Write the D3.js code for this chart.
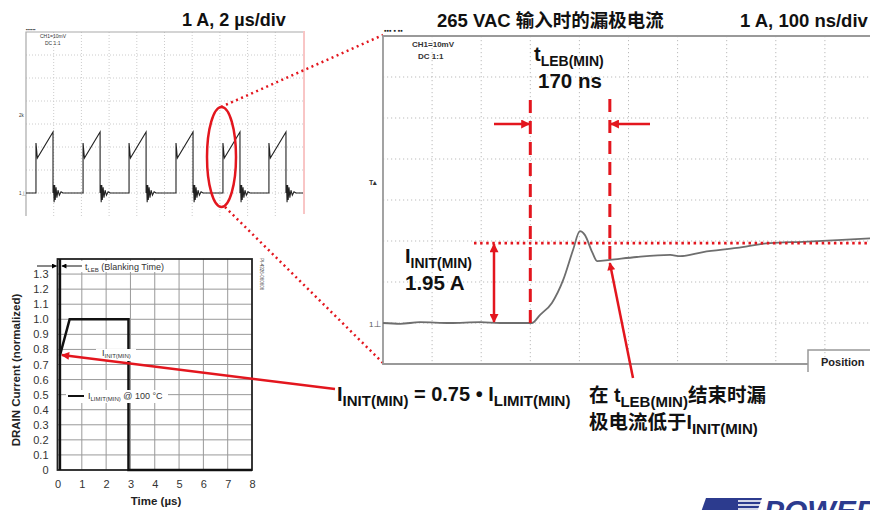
<!DOCTYPE html>
<html>
<head>
<meta charset="utf-8">
<script src="https://cdn.jsdelivr.net/npm/d3@7"></script>
<style>
  body { margin: 0; background: #fff; }
  svg { display: block; }
  text { font-family: "Liberation Sans", Arial, "Noto Sans CJK SC", sans-serif; }
</style>
</head>
<body>
<script>
// ---- data ----
// small scope: 1 A, 2 us/div
var pulseStarts = [0.72, 4.12, 7.44, 10.83, 14.22, 17.54];          // us
var pulseShape = [[0, 0], [0, 2.17], [0.1, 1.52], [1.23, 2.65], [1.23, 0]]; // [us offset, A]
var ringing = [[1.27, 0.35], [1.31, -0.4], [1.35, 0.35], [1.39, -0.3], [1.45, 0.25],
               [1.51, -0.2], [1.59, 0.12], [1.69, -0.1], [1.81, 0.05], [1.95, 0]];

// big scope: 1 A, 100 ns/div
var traceNs = [0, 35, 75, 136, 198, 238, 289, 303, 320, 344, 367, 387, 401, 411, 426, 436,
               462, 517, 585, 605, 652, 721, 788, 855, 925, 1000];
var traceA  = [0, -0.02, 0.02, 0, 0.02, 0, 0, 0, 0.2, 0.49, 1.05, 1.78, 2.24, 2.15, 1.73, 1.51,
               1.54, 1.61, 1.66, 1.63, 1.73, 1.83, 1.95, 1.98, 2.02, 2.07];
var lebStart = 300, lebEnd = 462, iInit = 1.95;

// normalized drain current vs time
var limitTime    = [0.1, 0.5, 2.92, 2.92, 8];
var limitCurrent = [0.76, 1.0, 1.0, 0, 0];
var yTicks = [0, 0.1, 0.2, 0.3, 0.4, 0.5, 0.6, 0.7, 0.8, 0.9, 1.0, 1.1, 1.2, 1.3];
var xTicks = [0, 1, 2, 3, 4, 5, 6, 7, 8];

var red = '#e3161e', blue = '#2c3b8e';

var svg = d3.select('body').append('svg')
    .attr('width', 870)
    .attr('height', 510);
svg.append('rect').attr('width', 870).attr('height', 510).attr('fill', '#fff');

var defs = svg.append('defs');
function marker(id, color, w, h) {
  defs.append('marker').attr('id', id)
      .attr('viewBox', '0 0 10 10').attr('refX', 9).attr('refY', 5)
      .attr('markerUnits', 'userSpaceOnUse')
      .attr('markerWidth', w).attr('markerHeight', h)
      .attr('orient', 'auto-start-reverse')
    .append('path').attr('d', 'M0,0L10,5L0,10z').attr('fill', color);
}
marker('ar', red, 11, 9);
marker('arLong', red, 14, 8);
marker('ak', '#000', 7, 5);

// text with subscripts: parts = [[text, isSub], ...]
function rich(g, x, y, parts, size, subSize, opts) {
  opts = opts || {};
  var t = g.append('text').attr('x', x).attr('y', y)
      .attr('font-size', size).attr('font-weight', opts.weight || 'bold')
      .attr('fill', opts.fill || '#111');
  var sub = false;
  parts.forEach(function(p) {
    var s = t.append('tspan').text(p[0]);
    if (p[1] && !sub) { s.attr('dy', size * 0.25).attr('font-size', subSize); sub = true; }
    else if (!p[1] && sub) { s.attr('dy', -size * 0.25); sub = false; }
  });
  return t;
}

// ================= small scope =================
var sx = d3.scaleLinear().domain([0, 20]).range([26, 303]);
var sy = d3.scaleLinear().domain([-1, 7]).range([216, 32]);
var small = svg.append('g');

small.selectAll('line.vg').data(d3.range(1, 10)).enter().append('line')
    .attr('x1', function(d) { return sx(d * 2); }).attr('x2', function(d) { return sx(d * 2); })
    .attr('y1', sy(7)).attr('y2', sy(-1))
    .attr('stroke', '#ccc').attr('stroke-dasharray', '1,2');
small.selectAll('line.hg').data(d3.range(0, 7)).enter().append('line')
    .attr('x1', sx(0)).attr('x2', sx(20))
    .attr('y1', function(d) { return sy(d); }).attr('y2', function(d) { return sy(d); })
    .attr('stroke', '#ccc').attr('stroke-dasharray', '1,2');
small.append('path')
    .attr('d', 'M' + sx(0) + ',' + sy(-1) + 'V' + sy(7) + 'H' + sx(20))
    .attr('fill', 'none').attr('stroke', '#aaa').attr('stroke-width', 1.2);
small.append('line').attr('x1', 304).attr('x2', 304).attr('y1', 31).attr('y2', 214)
    .attr('stroke', '#f28c8c').attr('stroke-width', 1);

var smallPts = [[0, 0]];
pulseStarts.forEach(function(s) {
  pulseShape.forEach(function(p) { smallPts.push([s + p[0], p[1]]); });
  ringing.forEach(function(p) { smallPts.push([s + p[0], p[1]]); });
});
smallPts.push([20, 0]);
small.append('path')
    .attr('d', d3.line().x(function(d) { return sx(d[0]); }).y(function(d) { return sy(d[1]); })(smallPts))
    .attr('fill', 'none').attr('stroke', '#222').attr('stroke-width', 1.1);

small.append('text').attr('x', 40).attr('y', 38).attr('font-size', 5).attr('fill', '#333').text('CH1=10mV');
small.append('text').attr('x', 45).attr('y', 45).attr('font-size', 5).attr('fill', '#333').text('DC  1:1');
small.append('text').attr('x', 19).attr('y', 117).attr('font-size', 4.5).attr('fill', '#333').text('2k');
small.append('text').attr('x', 19).attr('y', 195).attr('font-size', 4.5).attr('fill', '#333').text('1\u22a5');
small.append('text').attr('x', 26).attr('y', 31).attr('font-size', 4.5).attr('fill', '#333').text('\u25aa\u25aa\u25aa\u25aa\u25aa\u25aa');

svg.append('text').attr('x', 182).attr('y', 26).attr('font-size', 18).attr('font-weight', 'bold')
    .attr('fill', '#111').text('1 A, 2 \u00b5s/div');

// zoom ellipse and dotted lines to the big scope
svg.append('ellipse').attr('cx', 221.5).attr('cy', 157).attr('rx', 14.5).attr('ry', 50)
    .attr('fill', 'none').attr('stroke', red).attr('stroke-width', 2.5);
svg.append('line').attr('x1', 221).attr('y1', 107).attr('x2', 383).attr('y2', 35)
    .attr('stroke', red).attr('stroke-width', 2.5).attr('stroke-dasharray', '2,3.5');
svg.append('line').attr('x1', 225).attr('y1', 207).attr('x2', 383).attr('y2', 363)
    .attr('stroke', red).attr('stroke-width', 2.5).attr('stroke-dasharray', '2,3.5');

// ================= big scope =================
var bx = d3.scaleLinear().domain([0, 1000]).range([383, 874]);
var by = d3.scaleLinear().domain([-1, 7]).range([364, 36]);
var big = svg.append('g');

big.selectAll('line.vg').data(d3.range(1, 10)).enter().append('line')
    .attr('x1', function(d) { return bx(d * 100); }).attr('x2', function(d) { return bx(d * 100); })
    .attr('y1', by(7)).attr('y2', by(-1))
    .attr('stroke', '#bbb').attr('stroke-dasharray', '1.2,2.8');
big.selectAll('line.hg').data(d3.range(0, 7)).enter().append('line')
    .attr('x1', bx(0)).attr('x2', bx(1000))
    .attr('y1', function(d) { return by(d); }).attr('y2', function(d) { return by(d); })
    .attr('stroke', '#bbb').attr('stroke-dasharray', '1.2,2.8');
big.append('path')
    .attr('d', 'M870,' + by(7) + 'H' + bx(0) + 'V' + by(-1) + 'H808')
    .attr('fill', 'none').attr('stroke', '#999').attr('stroke-width', 1.8);
big.append('path').attr('d', 'M808,372V350H870')
    .attr('fill', 'none').attr('stroke', '#999').attr('stroke-width', 1.5);
big.append('text').attr('x', 821).attr('y', 366).attr('font-size', 11).attr('font-weight', 'bold')
    .attr('fill', '#222').text('Position');

big.append('text').attr('x', 412).attr('y', 47).attr('font-size', 8).attr('font-weight', 'bold')
    .attr('fill', '#333').text('CH1=10mV');
big.append('text').attr('x', 418).attr('y', 59).attr('font-size', 8).attr('font-weight', 'bold')
    .attr('fill', '#333').text('DC   1:1');
big.append('text').attr('x', 384).attr('y', 33).attr('font-size', 7).attr('fill', '#222')
    .text('\u25aa\u25aa\u25aa \u25aa \u25aa\u25aa');
big.append('text').attr('x', 369).attr('y', 185).attr('font-size', 7).attr('font-weight', 'bold')
    .attr('fill', '#333').text('T\u25b4');
big.append('text').attr('x', 369).attr('y', 327).attr('font-size', 8).attr('fill', '#555').text('1\u22a5');

big.append('path')
    .attr('d', d3.line().x(function(d, i) { return bx(traceNs[i]); })
                        .y(function(d, i) { return by(traceA[i]); })
                        .curve(d3.curveMonotoneX)(traceNs))
    .attr('fill', 'none').attr('stroke', '#6e6e6e').attr('stroke-width', 1.8);

// t_LEB markers
big.append('line').attr('x1', bx(lebStart)).attr('x2', bx(lebStart)).attr('y1', 100).attr('y2', by(0))
    .attr('stroke', red).attr('stroke-width', 3).attr('stroke-dasharray', '13,8');
big.append('line').attr('x1', bx(lebEnd)).attr('x2', bx(lebEnd)).attr('y1', 99).attr('y2', 262)
    .attr('stroke', red).attr('stroke-width', 3).attr('stroke-dasharray', '13,8');
big.append('line').attr('x1', 494).attr('x2', bx(lebStart) - 1).attr('y1', 124).attr('y2', 124)
    .attr('stroke', red).attr('stroke-width', 2.5).attr('marker-end', 'url(#ar)');
big.append('line').attr('x1', 650).attr('x2', bx(lebEnd) + 1).attr('y1', 124).attr('y2', 124)
    .attr('stroke', red).attr('stroke-width', 2.5).attr('marker-end', 'url(#ar)');

// I_INIT level
big.append('line').attr('x1', 474).attr('x2', 870).attr('y1', by(iInit)).attr('y2', by(iInit))
    .attr('stroke', red).attr('stroke-width', 2.8).attr('stroke-dasharray', '2.5,3.6');
big.append('line').attr('x1', 494).attr('x2', 494).attr('y1', by(iInit) + 1).attr('y2', by(0) - 1)
    .attr('stroke', red).attr('stroke-width', 2.5)
    .attr('marker-start', 'url(#ar)').attr('marker-end', 'url(#ar)');

rich(svg, 534, 61, [['t', false], ['LEB(MIN)', true]], 20, 14);
svg.append('text').attr('x', 538).attr('y', 88).attr('font-size', 20.5).attr('font-weight', 'bold')
    .attr('fill', '#111').text('170 ns');
rich(svg, 405, 263, [['I', false], ['INIT(MIN)', true]], 20, 14);
svg.append('text').attr('x', 405).attr('y', 290).attr('font-size', 20.5).attr('font-weight', 'bold')
    .attr('fill', '#111').text('1.95 A');

svg.append('text').attr('x', 437).attr('y', 27).attr('font-size', 18.5).attr('font-weight', 'bold')
    .attr('fill', '#111').text('265 VAC \u8f93\u5165\u65f6\u7684\u6f0f\u6781\u7535\u6d41');
svg.append('text').attr('x', 740).attr('y', 27).attr('font-size', 18.5).attr('font-weight', 'bold')
    .attr('fill', '#111').text('1 A, 100 ns/div');

// ================= normalized current chart =================
var cx = d3.scaleLinear().domain([0, 8]).range([57.5, 252]);
var cy = d3.scaleLinear().domain([0, 1.4]).range([470, 259]);
var ch = svg.append('g');

ch.selectAll('line.vg').data(xTicks.slice(1, -1)).enter().append('line')
    .attr('x1', function(d) { return cx(d); }).attr('x2', function(d) { return cx(d); })
    .attr('y1', cy(1.4)).attr('y2', cy(0))
    .attr('stroke', '#999').attr('stroke-width', 1);
ch.selectAll('line.hg').data(yTicks.slice(1)).enter().append('line')
    .attr('x1', cx(0)).attr('x2', cx(8))
    .attr('y1', function(d) { return cy(d); }).attr('y2', function(d) { return cy(d); })
    .attr('stroke', '#999').attr('stroke-width', 1);
ch.append('rect').attr('x', cx(0)).attr('y', cy(1.4))
    .attr('width', cx(8) - cx(0)).attr('height', cy(0) - cy(1.4))
    .attr('fill', 'none').attr('stroke', '#222').attr('stroke-width', 1.8);
ch.append('line').attr('x1', cx(0.1)).attr('x2', cx(0.1)).attr('y1', cy(1.4)).attr('y2', cy(0))
    .attr('stroke', '#111').attr('stroke-width', 2.5);

ch.append('path')
    .attr('d', d3.line().x(function(d, i) { return cx(limitTime[i]); })
                        .y(function(d, i) { return cy(limitCurrent[i]); })(limitTime))
    .attr('fill', 'none').attr('stroke', '#111').attr('stroke-width', 2.5);

ch.append('g').attr('transform', 'translate(' + (cx(0) - 9) + ',0)')
    .call(d3.axisLeft(cy).tickValues(yTicks).tickSize(0).tickPadding(0)
      .tickFormat(function(d) { return d === 0 ? '0' : d3.format('.1f')(d); }))
    .call(function(g) { g.select('.domain').remove(); })
    .selectAll('text').attr('font-size', 11).attr('fill', '#333')
      .style('font-family', '"Liberation Sans", Arial, sans-serif');
ch.append('g').attr('transform', 'translate(0,' + (cy(0) + 10) + ')')
    .call(d3.axisBottom(cx).tickValues(xTicks).tickSize(0).tickPadding(0).tickFormat(d3.format('d')))
    .call(function(g) { g.select('.domain').remove(); })
    .selectAll('text').attr('font-size', 11).attr('fill', '#333')
      .style('font-family', '"Liberation Sans", Arial, sans-serif');

ch.append('text').attr('transform', 'translate(20,' + 370 + ') rotate(-90)')
    .attr('text-anchor', 'middle').attr('font-size', 11.5).attr('font-weight', 'bold')
    .attr('fill', '#222').text('DRAIN Current (normalized)');
ch.append('text').attr('x', 156).attr('y', 505).attr('text-anchor', 'middle')
    .attr('font-size', 11.5).attr('font-weight', 'bold').attr('fill', '#222').text('Time (\u00b5s)');
ch.append('text').attr('transform', 'translate(260,258) rotate(90)')
    .attr('font-size', 4.5).attr('fill', '#444').text('PI-4326-060606');

// blanking time annotation
ch.append('rect').attr('x', 66).attr('y', 261).attr('width', 102).attr('height', 11).attr('fill', '#fff');
ch.append('line').attr('x1', 37).attr('x2', cx(0) - 1).attr('y1', 266).attr('y2', 266)
    .attr('stroke', '#111').attr('stroke-width', 1).attr('marker-end', 'url(#ak)');
ch.append('line').attr('x1', 82).attr('x2', cx(0.1) + 2).attr('y1', 266).attr('y2', 266)
    .attr('stroke', '#111').attr('stroke-width', 1).attr('marker-end', 'url(#ak)');
rich(ch, 85, 270, [['t', false], ['LEB', true], [' (Blanking Time)', false]], 9, 6, {weight: 'normal', fill: '#333'});

ch.append('rect').attr('x', 96).attr('y', 349).attr('width', 40).attr('height', 12).attr('fill', '#fff');
rich(ch, 102, 356, [['I', false], ['INIT(MIN)', true]], 9, 6, {weight: 'normal', fill: '#333'});

ch.append('rect').attr('x', 66).attr('y', 390).attr('width', 102).attr('height', 13).attr('fill', '#fff');
ch.append('line').attr('x1', 68).attr('x2', 84).attr('y1', 396).attr('y2', 396)
    .attr('stroke', '#111').attr('stroke-width', 2);
rich(ch, 88, 399, [['I', false], ['LIMIT(MIN)', true], [' @ 100 \u00b0C', false]], 9, 6, {weight: 'normal', fill: '#333'});

// ================= annotations =================
svg.append('line').attr('x1', 335).attr('y1', 389).attr('x2', cx(0.1) + 2).attr('y2', 355)
    .attr('stroke', red).attr('stroke-width', 2.5).attr('marker-end', 'url(#arLong)');
svg.append('line').attr('x1', 633).attr('y1', 378).attr('x2', bx(lebEnd)).attr('y2', 263)
    .attr('stroke', red).attr('stroke-width', 2.5).attr('marker-end', 'url(#arLong)');

rich(svg, 337, 401, [['I', false], ['INIT(MIN)', true], [' = 0.75 \u2022 I', false], ['LIMIT(MIN)', true]], 20, 15);
rich(svg, 589, 402, [['\u5728 t', false], ['LEB(MIN)', true], ['\u7ed3\u675f\u65f6\u6f0f', false]], 19.5, 15);
rich(svg, 589, 429, [['\u6781\u7535\u6d41\u4f4e\u4e8eI', false], ['INIT(MIN)', true]], 19.5, 15);

// logo, cut off by the bottom edge
var logo = svg.append('g');
logo.append('path').attr('d', 'M706,498H762L756,515H700Z').attr('fill', blue);
[501, 505, 509].forEach(function(y) {
  logo.append('line').attr('x1', 738).attr('x2', 764).attr('y1', y).attr('y2', y)
      .attr('stroke', '#fff').attr('stroke-width', 1.6);
});
logo.append('text').attr('x', 764).attr('y', 521).attr('font-size', 30).attr('font-weight', 'bold')
    .attr('font-style', 'italic').attr('fill', blue).text('POWER');
</script>
</body>
</html>
